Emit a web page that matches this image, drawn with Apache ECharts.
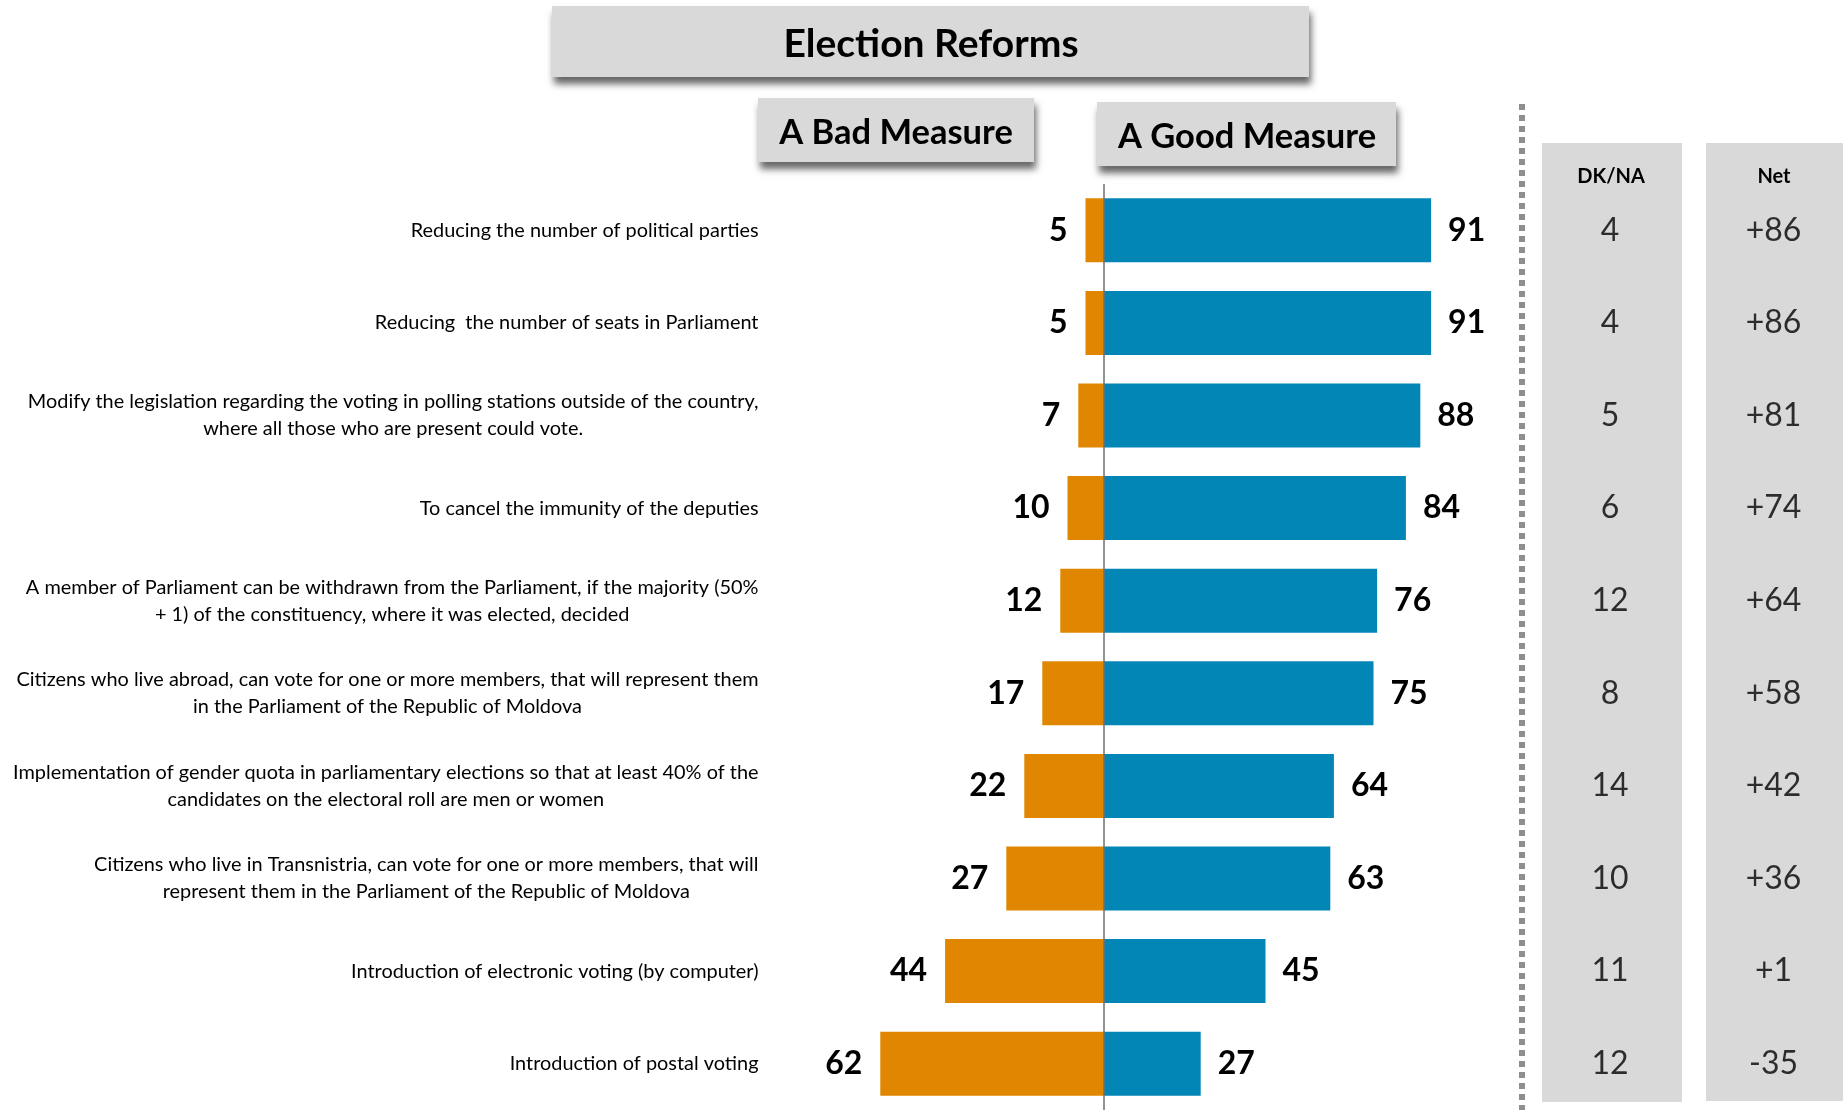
<!DOCTYPE html>
<html>
<head>
<meta charset="utf-8">
<title>Election Reforms</title>
<script src="https://cdn.jsdelivr.net/npm/echarts@6/dist/echarts.min.js"></script>
<style>
  html, body { margin: 0; padding: 0; background: #ffffff; }
  #chart { width: 1843px; height: 1110px; }
</style>
</head>
<body>
<div id="chart"></div>
<script>
// Survey items, top to bottom
const categories = [
  'Reducing the number of political parties',
  'Reducing  the number of seats in Parliament',
  'Modify the legislation regarding the voting in polling stations outside of the country,\nwhere all those who are present could vote.',
  'To cancel the immunity of the deputies',
  'A member of Parliament can be withdrawn from the Parliament, if the majority (50%\n+ 1) of the constituency, where it was elected, decided',
  'Citizens who live abroad, can vote for one or more members, that will represent them\nin the Parliament of the Republic of Moldova',
  'Implementation of gender quota in parliamentary elections so that at least 40% of the\ncandidates on the electoral roll are men or women',
  'Citizens who live in Transnistria, can vote for one or more members, that will\nrepresent them in the Parliament of the Republic of Moldova',
  'Introduction of electronic voting (by computer)',
  'Introduction of postal voting'
];

// Percentages per item
const badMeasure  = [5, 5, 7, 10, 12, 17, 22, 27, 44, 62];
const goodMeasure = [91, 91, 88, 84, 76, 75, 64, 63, 45, 27];
const dkNa        = [4, 4, 5, 6, 12, 8, 14, 10, 11, 12];
const netScore    = [86, 86, 81, 74, 64, 58, 42, 36, 1, -35];

const FONT = 'Lato, "Noto Sans", sans-serif';
const BLUE = '#0286b6';
const ORANGE = '#e08600';
const BOX = '#d9d9d9';

// Shared vertical layout for all three grids so rows line up
const GRID_TOP = 184;
const GRID_HEIGHT = 933;

const chart = echarts.init(document.getElementById('chart'), null, { renderer: 'canvas' });

function boxRect(x, y, w, h, shadow) {
  const r = {
    type: 'rect',
    z: 0,
    shape: { x: x, y: y, width: w, height: h },
    style: { fill: BOX }
  };
  if (shadow) {
    r.style.shadowBlur = 7;
    r.style.shadowOffsetX = 2;
    r.style.shadowOffsetY = 7;
    r.style.shadowColor = 'rgba(0,0,0,0.6)';
  }
  return r;
}

function boxText(x, y, text, size) {
  return {
    type: 'text',
    z: 10,
    x: x,
    y: y,
    style: {
      text: text,
      fill: '#000',
      font: 'bold ' + size + 'px ' + FONT,
      align: 'center',
      verticalAlign: 'middle'
    }
  };
}

const categoryAxisBase = {
  type: 'category',
  data: categories,
  inverse: true
};

const option = {
  backgroundColor: '#ffffff',
  animation: false,
  graphic: [
    boxRect(552, 6, 757, 71, true),
    boxText(931, 44, 'Election Reforms', 39),
    boxRect(758, 98, 276, 64, true),
    boxText(896, 133, 'A Bad Measure', 34.5),
    boxRect(1097, 102, 299, 64, true),
    boxText(1247, 137, 'A Good Measure', 34.5),
    {
      type: 'line',
      z: 0,
      shape: { x1: 1522, y1: 104, x2: 1522, y2: 1110 },
      style: { stroke: '#8e8e8e', lineWidth: 6, lineDash: [6, 5] }
    },
    boxRect(1542, 143, 140, 959, false),
    boxRect(1706, 143, 140, 958, false),
    boxText(1611, 177, 'DK/NA', 20),
    boxText(1774, 177, 'Net', 20)
  ],
  grid: [
    { left: 779.5, width: 684, top: GRID_TOP, height: GRID_HEIGHT },
    { left: 1540, width: 140, top: GRID_TOP, height: GRID_HEIGHT },
    { left: 1705, width: 137, top: GRID_TOP, height: GRID_HEIGHT }
  ],
  xAxis: [
    { gridIndex: 0, type: 'value', min: -90, max: 100, show: false },
    { gridIndex: 1, type: 'value', min: -1, max: 1, show: false },
    { gridIndex: 2, type: 'value', min: -1, max: 1, show: false }
  ],
  yAxis: [
    Object.assign({}, categoryAxisBase, {
      gridIndex: 0,
      axisLine: { show: false },
      axisTick: { show: false },
      splitLine: { show: false },
      axisLabel: {
        margin: 21,
        align: 'right',
        formatter: function (value) {
          return value.split('\n').map(function (line) { return '{c|' + line + '}'; }).join('\n');
        },
        rich: {
          c: {
            align: 'center',
            fontFamily: FONT,
            fontSize: 19.9,
            lineHeight: 27,
            color: '#000'
          }
        }
      }
    }),
    Object.assign({}, categoryAxisBase, { gridIndex: 1, show: false }),
    Object.assign({}, categoryAxisBase, { gridIndex: 2, show: false })
  ],
  series: [
    {
      name: 'A Bad Measure',
      type: 'bar',
      stack: 'measure',
      xAxisIndex: 0,
      yAxisIndex: 0,
      barWidth: 64,
      itemStyle: { color: ORANGE },
      label: {
        show: true,
        position: 'left',
        distance: 18,
        fontFamily: FONT,
        fontWeight: 'bold',
        fontSize: 32,
        color: '#000',
        formatter: function (p) { return Math.abs(p.value); }
      },
      data: badMeasure.map(function (v) { return -v; })
    },
    {
      name: 'A Good Measure',
      type: 'bar',
      stack: 'measure',
      xAxisIndex: 0,
      yAxisIndex: 0,
      barWidth: 64,
      itemStyle: { color: BLUE },
      label: {
        show: true,
        position: 'right',
        distance: 17,
        fontFamily: FONT,
        fontWeight: 'bold',
        fontSize: 32,
        color: '#000'
      },
      data: goodMeasure,
      markLine: {
        silent: true,
        symbol: 'none',
        label: { show: false },
        lineStyle: { color: '#6f6f6f', width: 1.5, type: 'solid' },
        data: [{ xAxis: 0 }]
      }
    },
    {
      name: 'DK/NA',
      type: 'scatter',
      xAxisIndex: 1,
      yAxisIndex: 1,
      symbolSize: 1,
      itemStyle: { color: 'rgba(0,0,0,0)' },
      label: {
        show: true,
        position: 'inside',
        fontFamily: FONT,
        fontSize: 32,
        color: '#000',
        formatter: function (p) { return p.value[2]; }
      },
      data: dkNa.map(function (v, i) { return [0, i, v]; })
    },
    {
      name: 'Net',
      type: 'scatter',
      xAxisIndex: 2,
      yAxisIndex: 2,
      symbolSize: 1,
      itemStyle: { color: 'rgba(0,0,0,0)' },
      label: {
        show: true,
        position: 'inside',
        fontFamily: FONT,
        fontSize: 32,
        color: '#000',
        formatter: function (p) {
          const v = p.value[2];
          return v > 0 ? '+' + v : String(v);
        }
      },
      data: netScore.map(function (v, i) { return [0, i, v]; })
    }
  ]
};

chart.setOption(option);
</script>
</body>
</html>
